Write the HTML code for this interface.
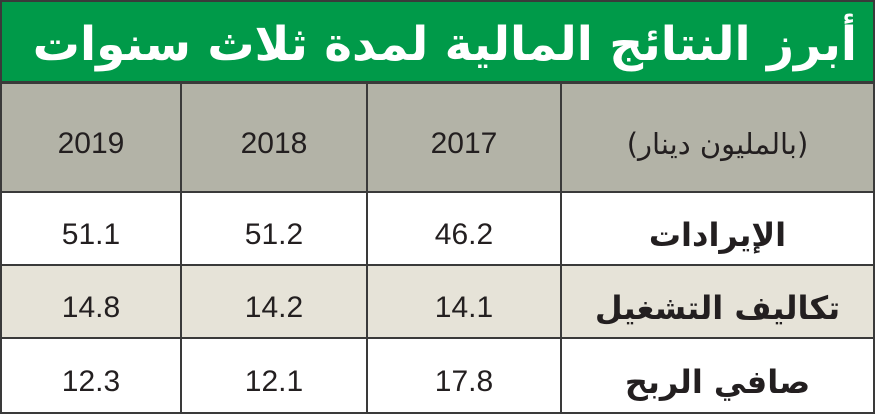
<!DOCTYPE html>
<html><head><meta charset="utf-8"><style>
html,body{margin:0;padding:0;background:#fff;}
#w{position:relative;width:875px;height:414px;overflow:hidden;background:#3a3a3a;font-family:"Liberation Sans","DejaVu Sans",sans-serif;}
.c{position:absolute;display:flex;align-items:center;justify-content:center;color:#231f20;box-sizing:border-box;padding-top:12px;}
.n{font-size:30px;}
.a{font-family:"DejaVu Sans",sans-serif;font-weight:bold;font-size:32px;direction:rtl;}
</style></head><body><div id="w">
<div class="c" style="left:2px;top:2px;width:871px;height:79px;background:#009a49;color:#fff;justify-content:flex-end;padding-top:0;">
<span style="font-family:'DejaVu Sans',sans-serif;font-weight:bold;font-size:47px;direction:rtl;padding-right:16px;margin-top:6px;letter-spacing:1px;">أبرز النتائج المالية لمدة ثلاث سنوات</span></div>
<div class="c n" style="left:2px;top:84px;width:178px;height:107px;background:#b3b3a7;">2019</div>
<div class="c n" style="left:182px;top:84px;width:184px;height:107px;background:#b3b3a7;">2018</div>
<div class="c n" style="left:368px;top:84px;width:192px;height:107px;background:#b3b3a7;">2017</div>
<div class="c a" style="left:562px;top:84px;width:311px;height:107px;background:#b3b3a7;font-weight:normal;font-size:29px;">(بالمليون دينار)</div>
<div class="c n" style="left:2px;top:193px;width:178px;height:71px;background:#fff;">51.1</div>
<div class="c n" style="left:182px;top:193px;width:184px;height:71px;background:#fff;">51.2</div>
<div class="c n" style="left:368px;top:193px;width:192px;height:71px;background:#fff;">46.2</div>
<div class="c a" style="left:562px;top:193px;width:311px;height:71px;background:#fff;">الإيرادات</div>
<div class="c n" style="left:2px;top:266px;width:178px;height:71px;background:#e6e3d8;">14.8</div>
<div class="c n" style="left:182px;top:266px;width:184px;height:71px;background:#e6e3d8;">14.2</div>
<div class="c n" style="left:368px;top:266px;width:192px;height:71px;background:#e6e3d8;">14.1</div>
<div class="c a" style="left:562px;top:266px;width:311px;height:71px;background:#e6e3d8;">تكاليف التشغيل</div>
<div class="c n" style="left:2px;top:339px;width:178px;height:73px;background:#fff;">12.3</div>
<div class="c n" style="left:182px;top:339px;width:184px;height:73px;background:#fff;">12.1</div>
<div class="c n" style="left:368px;top:339px;width:192px;height:73px;background:#fff;">17.8</div>
<div class="c a" style="left:562px;top:339px;width:311px;height:73px;background:#fff;">صافي الربح</div>
</div></body></html>
